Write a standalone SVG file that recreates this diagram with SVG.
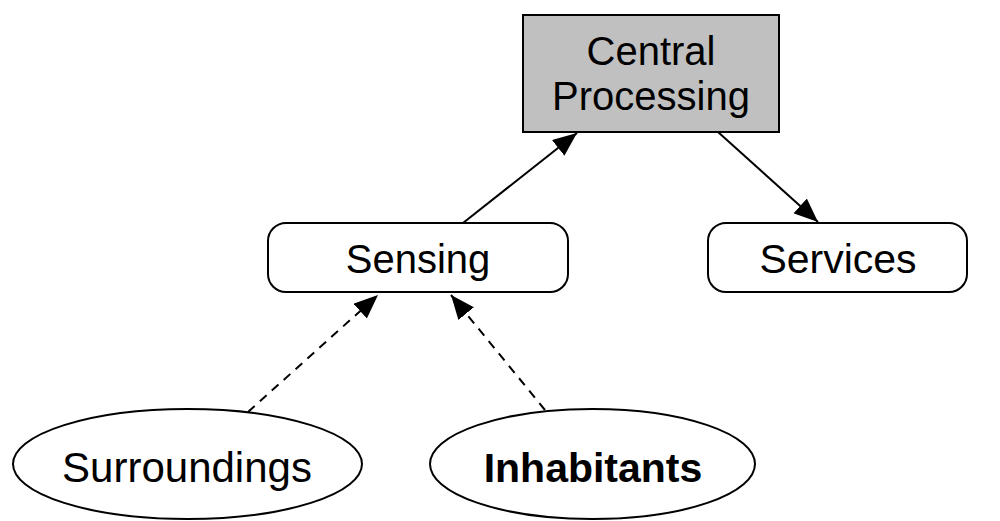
<svg xmlns="http://www.w3.org/2000/svg" width="1000" height="521" viewBox="0 0 1000 521">
  <style>
    .box { fill: #ffffff; stroke: #000000; stroke-width: 2; }
    .proc { fill: #c0c0c0; stroke: #000000; stroke-width: 2; }
    .lbl { font-family: "Liberation Sans", Arial, Helvetica, sans-serif; font-size: 40px; fill: #000000; text-anchor: middle; }
    .bold { font-weight: bold; }
    .edge { fill: none; stroke: #000000; stroke-width: 2; }
    .dashed { stroke-dasharray: 9 7; }
  </style>
  <defs>
    <marker id="arrow" markerUnits="userSpaceOnUse" viewBox="0 0 24 20" refX="24" refY="10" markerWidth="24" markerHeight="20" orient="auto">
      <path d="M0,0 L24,10 L0,20 z" fill="#000000"/>
    </marker>
  </defs>

  <g id="connectors">
    <line class="edge" x1="463" y1="223" x2="577" y2="133" marker-end="url(#arrow)"/>
    <line class="edge" x1="718" y1="132" x2="818" y2="222" marker-end="url(#arrow)"/>
    <line class="edge dashed" x1="248" y1="412" x2="378" y2="295" marker-end="url(#arrow)"/>
    <line class="edge dashed" x1="545" y1="410" x2="451" y2="295" marker-end="url(#arrow)"/>
  </g>

  <g id="central-processing">
    <rect class="proc" x="523" y="15" width="256" height="117"/>
    <text class="lbl" x="651" y="65">Central</text>
    <text class="lbl" x="651" y="110">Processing</text>
  </g>

  <g id="sensing">
    <rect class="box" x="268" y="223" width="300" height="69" rx="18" ry="18"/>
    <text class="lbl" x="418" y="273">Sensing</text>
  </g>

  <g id="services">
    <rect class="box" x="708" y="223" width="259" height="69" rx="18" ry="18"/>
    <text class="lbl" x="838" y="273" style="font-size:41px">Services</text>
  </g>

  <g id="surroundings">
    <ellipse class="box" cx="187.5" cy="464" rx="174.5" ry="55"/>
    <text class="lbl" x="187" y="482" style="font-size:42px">Surroundings</text>
  </g>

  <g id="inhabitants">
    <ellipse class="box" cx="592.5" cy="464" rx="162.5" ry="55"/>
    <text class="lbl bold" x="593" y="482" style="font-size:41px">Inhabitants</text>
  </g>
</svg>
